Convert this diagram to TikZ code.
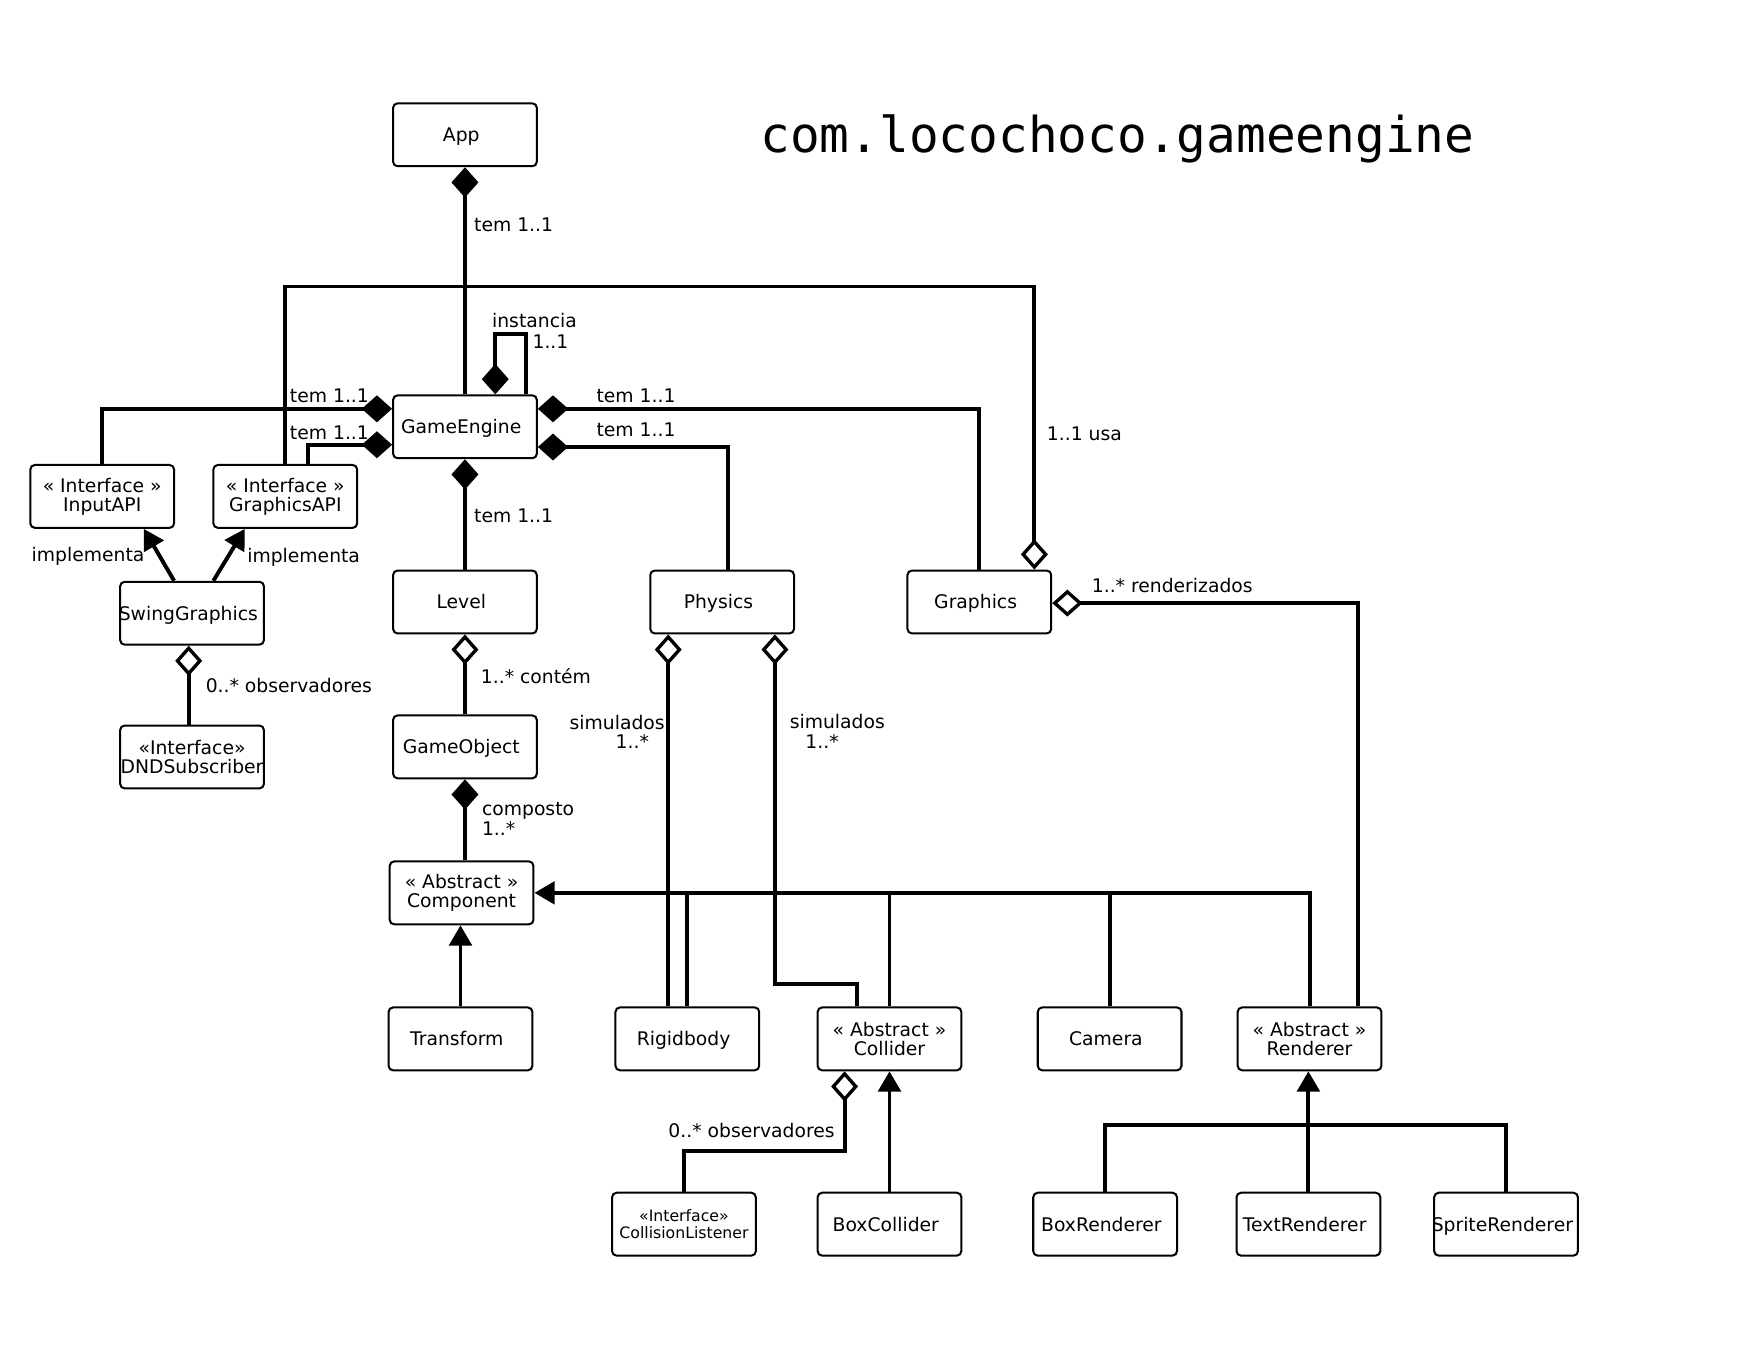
\documentclass[tikz,border=0pt]{standalone}
\usepackage{fontspec}
\setmainfont{DejaVu Sans}
\newfontfamily\titlefont{DejaVu Sans Mono}
\usetikzlibrary{arrows.meta}
\begin{document}
\begin{tikzpicture}[x=1pt,y=-1pt,
  boxbase/.style={draw, line width=1.8pt, rounded corners=4pt, minimum width=128pt, minimum height=56pt, inner sep=0pt, font=\fontsize{16.7}{17}\selectfont},
  box/.style={boxbase, align=center},
  box1/.style={boxbase, text height=12.2pt, text depth=0pt, execute at begin node={\kern-6.6pt}},
  lbl/.style={inner sep=0pt, font=\fontsize{16.7}{17}\selectfont, anchor=west},
  conn/.style={line width=3.5pt, line join=miter},
  comp/.style={conn, {Diamond[length=27pt,width=24pt]}-},
  aggr/.style={conn, {Diamond[open,fill=white,length=27pt,width=24pt,line width=3pt]}-},
  inh/.style={conn, -{Triangle[length=18pt,width=20pt]}},
]
\useasboundingbox (0,0) rectangle (1568,1221);
\fill[white] (0,0) rectangle (1568,1221);

\node[inner sep=0pt, font=\titlefont\fontsize{44}{44}\selectfont] (title) at (995,124) {com.locochoco.gameengine};

\node[box1] (app) at (414,120) {App};
\node[box1] (ge) at (414,380) {GameEngine};
\node[box] (inapi) at (91,442) {« Interface »\\InputAPI};
\node[box] (gapi) at (254,442) {« Interface »\\GraphicsAPI};
\node[box1] (swing) at (171,546) {SwingGraphics};
\node[box] (dnd) at (171,674) {«Interface»\\DNDSubscriber};
\node[box1] (level) at (414,536) {Level};
\node[box1] (phys) at (643,536) {Physics};
\node[box1] (gfx) at (872,536) {Graphics};
\node[box1] (gobj) at (414,665) {GameObject};
\node[box] (compnt) at (411,795) {« Abstract »\\Component};
\node[box1] (transform) at (410,925) {Transform};
\node[box1] (rigid) at (612,925) {Rigidbody};
\node[box] (coll) at (792,925) {« Abstract »\\Collider};
\node[box1] (camera) at (988,925) {Camera};
\node[box] (renderer) at (1166,925) {« Abstract »\\Renderer};
\node[box, font=\fontsize{14}{15}\selectfont] (clist) at (609,1090) {«Interface»\\CollisionListener};
\node[box1] (boxcoll) at (792,1090) {BoxCollider};
\node[box1] (boxr) at (984,1090) {BoxRenderer};
\node[box1] (textr) at (1165,1090) {TextRenderer};
\node[box1] (sprite) at (1341,1090) {SpriteRenderer};

% connectors
\draw[comp] (app.south) -- (ge.north);
\draw[aggr] ([xshift=49pt]gfx.north) -- ++(0,-252) -| (gapi.north);
\draw[comp] ([xshift=27pt]ge.north) -- ++(0,-54) -| ([xshift=54pt]ge.north);
\draw[comp] ([yshift=16pt]ge.west) -| (inapi.north);
\draw[comp] ([yshift=-16pt]ge.west) -| ([xshift=20pt]gapi.north);
\draw[comp] ([yshift=16pt]ge.east) -| (gfx.north);
\draw[comp] ([yshift=-18pt]ge.east) -| ([xshift=5pt]phys.north);
\draw[comp] (ge.south) -- (level.north);
\draw[inh] ([xshift=-16pt]swing.north) -- ([xshift=37pt]inapi.south);
\draw[inh] ([xshift=19pt]swing.north) -- ([xshift=-36pt]gapi.south);
\draw[aggr] ([xshift=-3pt]swing.south) -- ([xshift=-3pt]dnd.north);
\draw[aggr] (level.south) -- (gobj.north);
\draw[comp] (gobj.south) -- (gobj.south |- compnt.north);
\draw[aggr] ([xshift=-48pt]phys.south) -- ([xshift=-48pt]phys.south |- rigid.north);
\draw[aggr] ([xshift=47pt]phys.south) -- ++(0,311) -| ([xshift=-29pt]coll.north);
\draw[inh] (renderer.north) |- (compnt.east);
\draw[conn] (rigid.north) -- (rigid.north |- compnt.east);
\draw[conn] (coll.north) -- (coll.north |- compnt.east);
\draw[conn] (camera.north) -- (camera.north |- compnt.east);
\draw[inh] (transform.north) -- (transform.north |- compnt.south);
\draw[aggr] ([yshift=-1pt]gfx.east) -| ([xshift=43pt]renderer.north);
\draw[aggr] ([xshift=-40pt]coll.south) -- ++(0,71) -| (clist.north);
\draw[inh] (boxcoll.north) -- (coll.south);
\draw[inh] (textr.north) -- (textr.north |- renderer.south);
\draw[conn] (boxr.north) -- ++(0,-59) -| (sprite.north);

% labels
\node[lbl] (l1) at (422,200) {tem 1..1};
\node[lbl] (l2) at (932,386) {1..1 usa};
\node[lbl] (l3) at (438,285) {instancia};
\node[lbl] (l4) at (474,304) {1..1};
\node[lbl] (l5) at (258,352) {tem 1..1};
\node[lbl] (l6) at (258,385) {tem 1..1};
\node[lbl] (l7) at (531,352) {tem 1..1};
\node[lbl] (l8) at (531,383) {tem 1..1};
\node[lbl] (l9) at (422,459) {tem 1..1};
\node[lbl] (l10) at (28,495) {implementa};
\node[lbl] (l11) at (220,496) {implementa};
\node[lbl] (l12) at (183,610) {0..* observadores};
\node[lbl] (l13) at (428,602) {1..* contém};
\node[lbl] (l14) at (429,722) {composto};
\node[lbl] (l15) at (429,738) {1..*};
\node[lbl, anchor=east] (l16) at (592,643) {simulados};
\node[lbl] (l17) at (548,660) {1..*};
\node[lbl] (l18) at (703,642) {simulados};
\node[lbl] (l19) at (717,660) {1..*};
\node[lbl] (l20) at (972,521) {1..* renderizados};
\node[lbl] (l21) at (595,1007) {0..* observadores};
\end{tikzpicture}
\end{document}
